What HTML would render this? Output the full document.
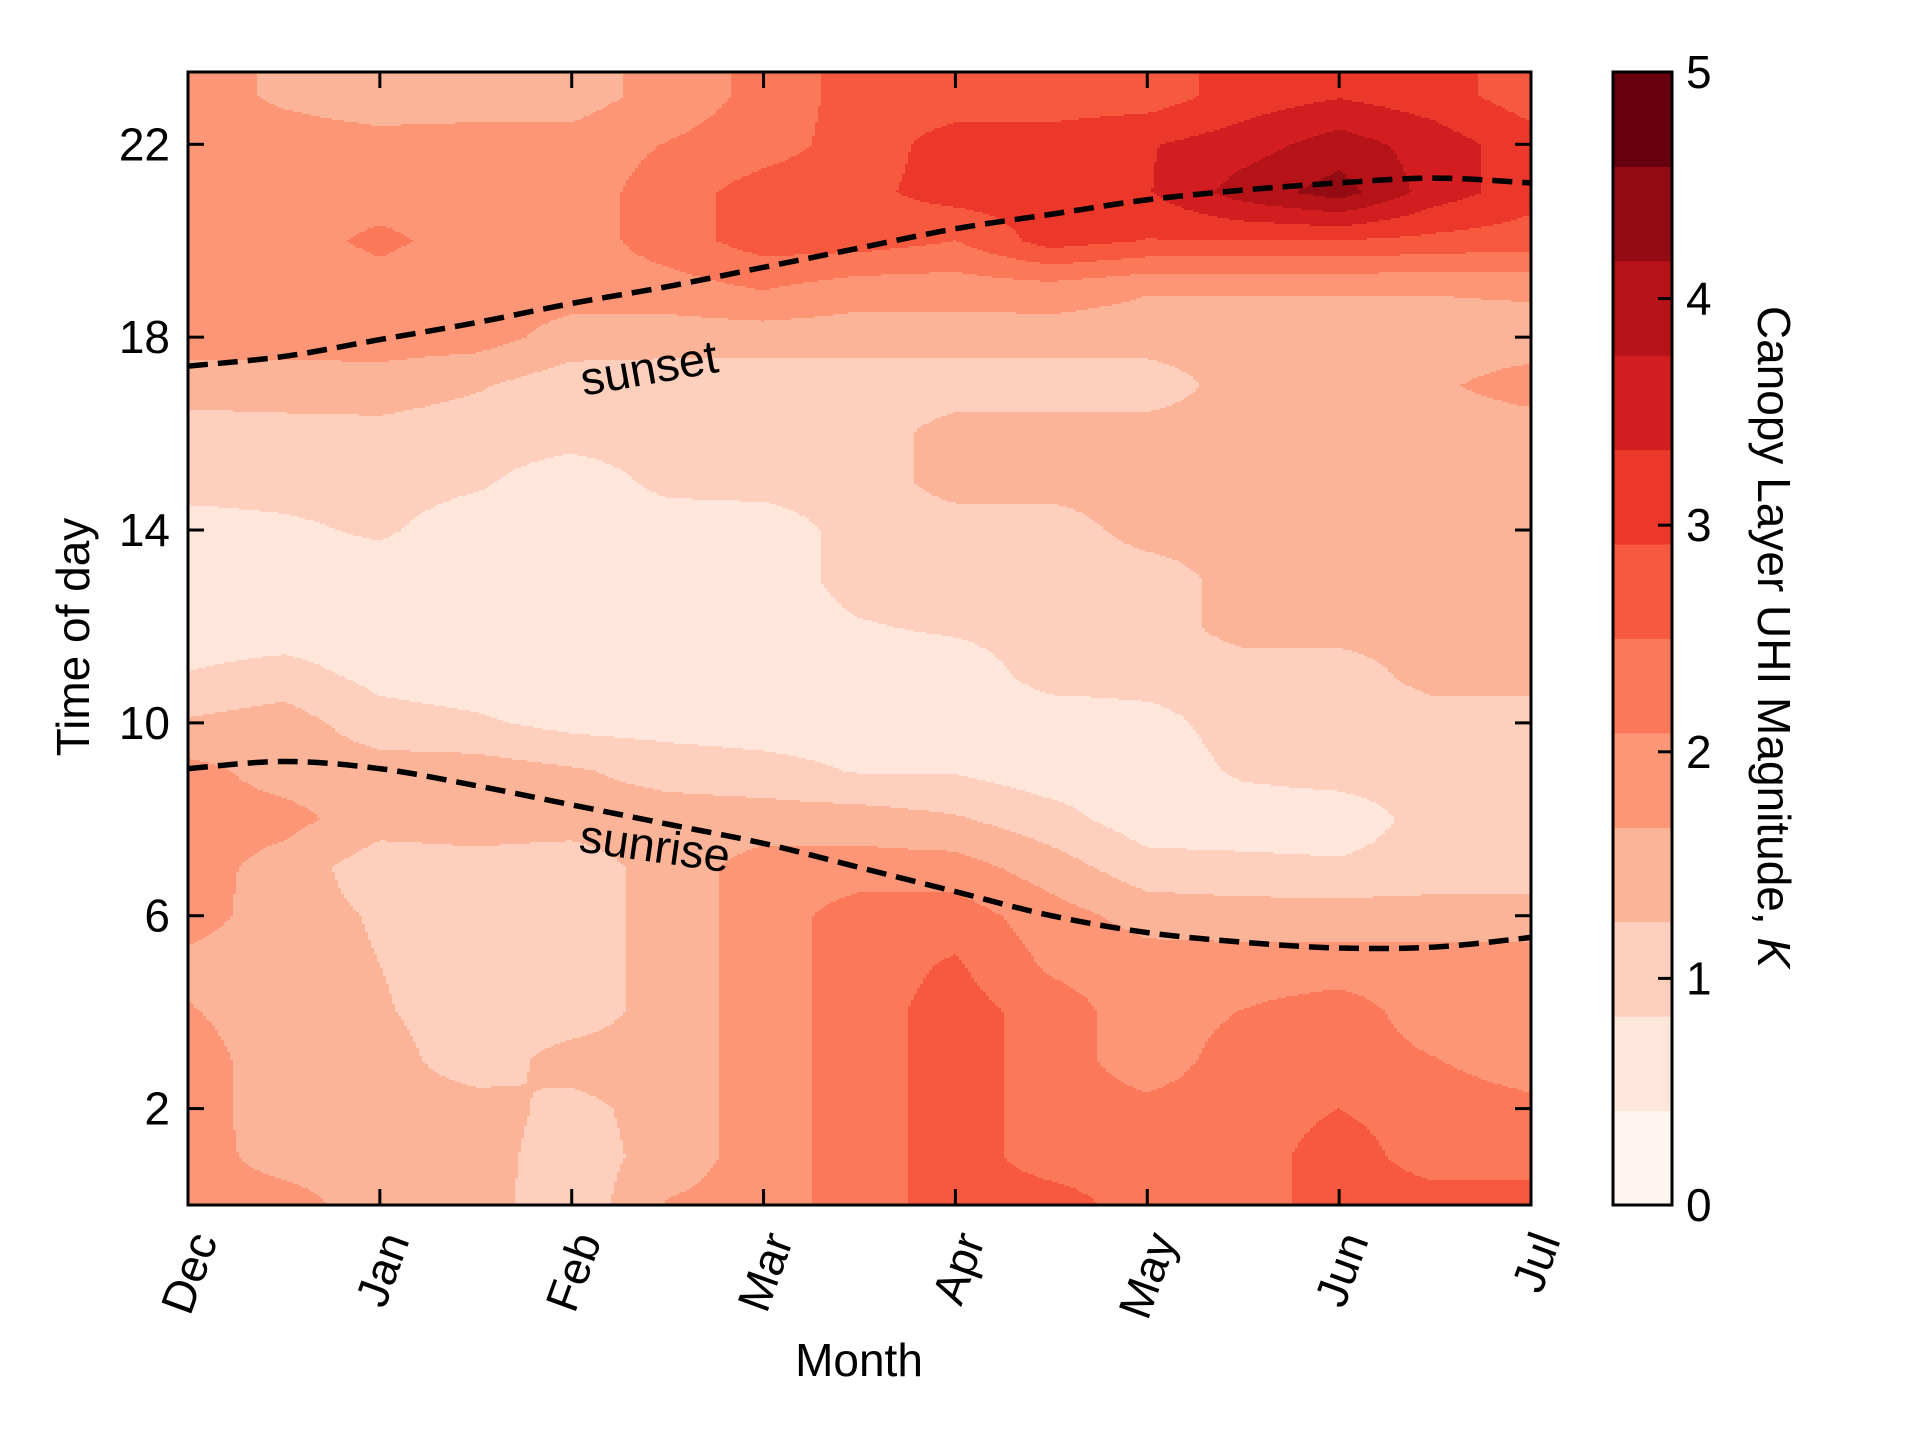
<!DOCTYPE html>
<html><head><meta charset="utf-8"><style>
html,body{margin:0;padding:0;background:#fff;}
svg{display:block;font-family:"Liberation Sans",Arial,sans-serif;}
</style></head><body>
<svg id="chart" width="1920" height="1440" viewBox="0 0 1920 1440">
<g id="field"></g>
<g id="curves"></g>
<g id="axes"></g>
<g id="cbar"></g>
</svg>
<script>
// ---- data ----
const monthLabels = ["Dec","Jan","Feb","Mar","Apr","May","Jun","Jul"];
const yTicks = [2,6,10,14,18,22];
const cbarTicks = [0,1,2,3,4,5];
const levels = [0,0.4167,0.8333,1.25,1.6667,2.0833,2.5,2.9167,3.3333,3.75,4.1667,4.5833,5];
// UHI values (K): columns at half-month steps Dec..Jul, rows hours 0..23
const col0  = [1.85,1.85,1.85,1.85,1.7,1.55,1.85,1.85,1.85,1.8,1.3,0.85,0.6,0.6,0.65,1.0,1.05,1.45,1.85,1.85,1.85,1.85,1.85,1.85];
const col1  = [1.85,1.5,1.45,1.45,1.45,1.45,1.45,1.5,1.8,1.5,1.45,1.0,0.6,0.6,0.75,1.0,1.1,1.45,1.85,1.85,1.85,1.85,1.85,1.6];
const col2  = [1.45,1.45,1.45,1.45,1.3,1.25,1.2,1.0,1.45,1.45,1.0,0.7,0.6,0.6,0.9,1.0,1.1,1.5,1.85,1.85,2.2,1.85,1.8,1.45];
const col3  = [1.45,1.45,1.45,1.0,1.0,1.0,1.0,1.1,1.45,1.45,0.9,0.6,0.6,0.6,0.6,0.9,1.0,1.3,1.85,1.85,1.85,1.85,1.85,1.45];
const col4  = [0.95,1.0,1.1,1.45,1.0,1.0,1.0,1.0,1.45,1.3,0.7,0.6,0.6,0.6,0.6,0.6,1.0,1.0,1.5,1.85,1.85,1.85,1.85,1.45];
const col5  = [1.7,1.45,1.45,1.45,1.45,1.45,1.45,1.45,1.45,1.1,0.65,0.6,0.6,0.6,0.6,0.95,1.0,1.0,1.45,1.9,2.3,2.3,2.1,1.85];
const col6  = [1.85,1.85,1.85,1.85,1.85,1.85,1.85,1.85,1.45,1.0,0.6,0.6,0.6,0.6,0.6,1.0,1.0,1.0,1.45,2.1,2.7,2.7,2.3,2.2];
const col7  = [2.3,2.3,2.3,2.3,2.3,2.3,2.3,1.85,1.45,0.8,0.6,0.6,0.8,1.0,1.0,1.0,1.0,1.0,1.45,1.85,2.7,2.8,2.7,2.7];
const col8  = [2.7,2.7,2.7,2.7,2.7,2.55,2.3,1.85,1.3,0.8,0.6,0.6,0.9,1.0,1.0,1.45,1.45,1.0,1.45,1.85,2.5,3.1,3.1,2.7];
const col9  = [2.7,2.3,2.3,2.3,2.3,2.0,1.85,1.45,1.0,0.6,0.6,1.0,1.0,1.0,1.0,1.45,1.45,1.0,1.45,1.9,3.1,3.1,3.1,2.7];
const col10 = [2.3,2.3,2.2,1.85,1.85,1.85,1.5,1.0,0.6,0.6,0.7,1.0,1.0,1.0,1.45,1.45,1.45,1.0,1.45,1.7,2.9,3.3,3.3,2.7];
const col11 = [2.3,2.3,2.3,2.3,2.1,1.85,1.45,0.95,0.6,0.9,1.0,1.0,1.45,1.45,1.45,1.45,1.45,1.45,1.45,1.7,2.9,3.95,3.55,3.1];
const col12 = [2.7,2.7,2.5,2.3,2.3,1.85,1.45,0.9,0.6,1.0,1.0,1.0,1.45,1.45,1.45,1.45,1.45,1.45,1.45,1.7,2.9,4.35,3.95,3.3];
const col13 = [2.7,2.3,2.3,2.1,1.85,1.85,1.45,1.0,1.0,1.0,1.0,1.45,1.45,1.45,1.45,1.45,1.45,1.6,1.45,1.7,2.8,3.55,3.55,3.1];
const col14 = [2.7,2.3,2.2,1.85,1.85,1.85,1.45,1.0,1.0,1.0,1.0,1.45,1.45,1.45,1.45,1.45,1.45,1.85,1.45,1.75,2.7,3.1,3.1,2.7];
const grid = [col0,col1,col2,col3,col4,col5,col6,col7,col8,col9,col10,col11,col12,col13,col14];
const sunsetHours  = [17.4,17.6,17.95,18.3,18.7,19.05,19.45,19.85,20.25,20.55,20.85,21.05,21.2,21.3,21.2];
const sunriseHours = [9.05,9.2,9.05,8.7,8.3,7.9,7.5,7.0,6.5,6.0,5.65,5.45,5.33,5.35,5.55];

// ---- layout ----
const NS="http://www.w3.org/2000/svg";
const PL=188, PR=1531, PT=72, PB=1205;
const YMAX=23.5;
const xs = m => PL + (m/7)*(PR-PL);
const ys = h => PB - (h/YMAX)*(PB-PT);
const CL=1613, CR=1672;
const cy = v => PB - (v/5)*(PB-PT);

const stops=[[0,[255,245,240]],[0.125,[254,224,210]],[0.25,[252,187,161]],[0.375,[252,146,114]],[0.5,[251,106,74]],[0.625,[239,59,44]],[0.75,[203,24,29]],[0.875,[165,15,21]],[1,[103,0,13]]];
function reds(t){for(let i=0;i<stops.length-1;i++){const [a,ca]=stops[i],[b,cb]=stops[i+1];if(t<=b){const f=(t-a)/(b-a);return "rgb("+ca.map((c,k)=>Math.round(c+(cb[k]-c)*f)).join(",")+")";}}return "rgb(103,0,13)";}
const bandColors=[];for(let i=0;i<levels.length-1;i++)bandColors.push(reds(i/(levels.length-2)));
function band(v){for(let i=levels.length-2;i>=0;i--)if(v>=levels[i])return i;return 0;}
function el(tag,attrs,parent){const e=document.createElementNS(NS,tag);for(const k in attrs)e.setAttribute(k,attrs[k]);parent.appendChild(e);return e;}

function valueAt(m,h){
  const nc=grid.length-1; let cx=m*2; if(cx<0)cx=0; if(cx>nc)cx=nc;
  let hy=Math.min(Math.max(h,0),23);
  const c0=Math.min(Math.floor(cx),nc-1), r0=Math.min(Math.floor(hy),22);
  const fx=cx-c0, fy=hy-r0;
  const a=grid[c0][r0],b=grid[c0+1][r0],c=grid[c0][r0+1],d=grid[c0+1][r0+1];
  return a*(1-fx)*(1-fy)+b*fx*(1-fy)+c*(1-fx)*fy+d*fx*fy;
}
// ---- contour field ----
const field=document.getElementById('field');
const STEP=3;
function addCell(x,y0,y1,w,b){
  const r=el('rect',{x:x,y:y0,width:w+0.6,height:y1-y0+0.6,fill:bandColors[b]},field);
  
  
}
for(let x=PL;x<PR;x+=STEP){
  const w=Math.min(STEP,PR-x);
  const m=((x+w/2)-PL)/(PR-PL)*7;
  let runStart=PT, runBand=null;
  for(let y=PT;y<PB;y+=2){
    const h=(PB-(y+1))/(PB-PT)*YMAX;
    const b=band(valueAt(m,h));
    if(runBand===null){runBand=b;runStart=y;continue;}
    if(b!==runBand){addCell(x,runStart,y,w,runBand);runBand=b;runStart=y;}
  }
  addCell(x,runStart,PB,w,runBand);
}
// ---- sun curves ----
function crPath(vals){
  const pts=vals.map((v,i)=>[xs(i/2),ys(v)]);
  let d="M"+pts[0][0]+","+pts[0][1];
  for(let i=0;i<pts.length-1;i++){
    const p0=pts[Math.max(i-1,0)],p1=pts[i],p2=pts[i+1],p3=pts[Math.min(i+2,pts.length-1)];
    const c1=[p1[0]+(p2[0]-p0[0])/6,p1[1]+(p2[1]-p0[1])/6],c2=[p2[0]-(p3[0]-p1[0])/6,p2[1]-(p3[1]-p1[1])/6];
    d+=" C"+c1.join(",")+" "+c2.join(",")+" "+p2.join(",");
  }
  return d;
}
const curves=document.getElementById('curves');
const ss=el('path',{d:crPath(sunsetHours),fill:'none',stroke:'#000','stroke-width':5.5,'stroke-dasharray':'20 10'},curves);


const sr=el('path',{d:crPath(sunriseHours),fill:'none',stroke:'#000','stroke-width':5.5,'stroke-dasharray':'20 10'},curves);


const t1=el('text',{x:649,y:384,'font-size':47,'text-anchor':'middle',transform:'rotate(-10 649 368)'},curves);t1.textContent='sunset';


const t2=el('text',{x:655,y:862,'font-size':47,'text-anchor':'middle',transform:'rotate(8 655 846)'},curves);t2.textContent='sunrise';



// ---- axes ----
const axes=document.getElementById('axes');
const frame=el('rect',{x:PL,y:PT,width:PR-PL,height:PB-PT,fill:'none',stroke:'#000','stroke-width':3},axes);


yTicks.forEach(v=>{
  const y=ys(v);
  el('line',{x1:PL,x2:PL+16,y1:y,y2:y,stroke:'#000','stroke-width':3},axes);
  el('line',{x1:PR-16,x2:PR,y1:y,y2:y,stroke:'#000','stroke-width':3},axes);
  const t=el('text',{x:170,y:y+16,'font-size':46,'text-anchor':'end'},axes);t.textContent=v;
  
  
});
monthLabels.forEach((lab,i)=>{
  const x=xs(i);
  el('line',{x1:x,x2:x,y1:PB-16,y2:PB,stroke:'#000','stroke-width':3},axes);
  el('line',{x1:x,x2:x,y1:PT,y2:PT+16,stroke:'#000','stroke-width':3},axes);
  const tx=x+30, ty=1240;
  const t=el('text',{x:tx,y:ty,'font-size':46,'text-anchor':'end',transform:`rotate(-70 ${tx} ${ty})`},axes);t.textContent=lab;
  
  
});
const xt=el('text',{x:859,y:1376,'font-size':46,'text-anchor':'middle'},axes);xt.textContent='Month';


const yt=el('text',{x:0,y:0,'font-size':46,'text-anchor':'middle',transform:'translate(89 637) rotate(-90)'},axes);yt.textContent='Time of day';



// ---- colorbar ----
const cb=document.getElementById('cbar');
for(let i=0;i<levels.length-1;i++){
  const r=el('rect',{x:CL,y:cy(levels[i+1]),width:CR-CL,height:cy(levels[i])-cy(levels[i+1])+0.5,fill:bandColors[i]},cb);
  
  
}
el('rect',{x:CL,y:PT,width:CR-CL,height:PB-PT,fill:'none',stroke:'#000','stroke-width':3},cb);
cbarTicks.forEach(v=>{
  const y=cy(v);
  el('line',{x1:CR-14,x2:CR,y1:y,y2:y,stroke:'#000','stroke-width':3},cb);
  const t=el('text',{x:1686,y:y+16,'font-size':46},cb);t.textContent=v;
  
  
});
const ct=el('text',{x:0,y:0,'font-size':46,'text-anchor':'middle',transform:'translate(1758 637) rotate(90)'},cb);
ct.innerHTML='Canopy Layer UHI Magnitude, <tspan font-style="italic">K</tspan>';


</script>
</body></html>
